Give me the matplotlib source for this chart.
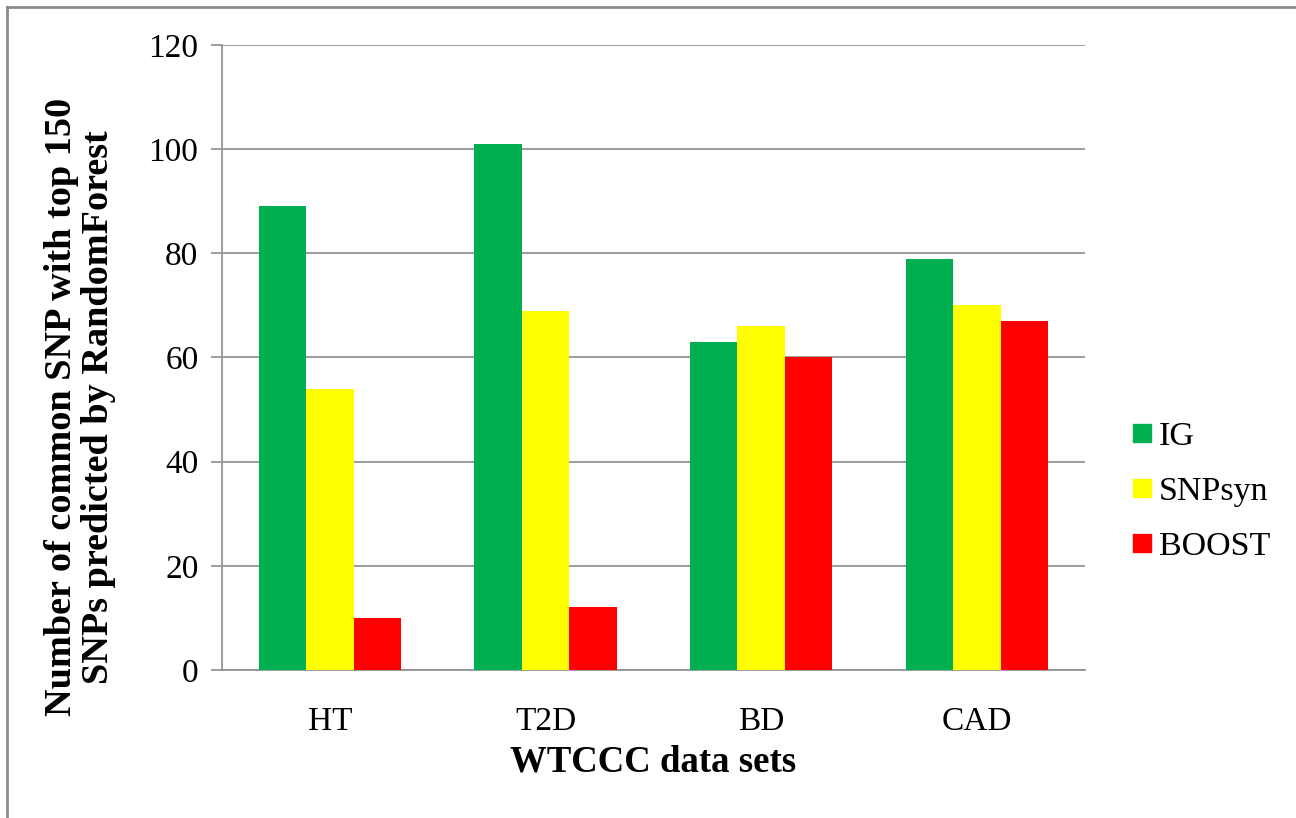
import matplotlib
matplotlib.use("Agg")
import matplotlib.pyplot as plt
import numpy as np
from matplotlib.lines import Line2D

categories = ["HT", "T2D", "BD", "CAD"]
series_names = ["IG", "SNPsyn", "BOOST"]
ig = [89, 101, 63, 79]
snpsyn = [54, 69, 66, 70]
boost = [10, 12, 60, 67]
colors = ["#00B050", "#FFFF00", "#FF0000"]

plt.rcParams['font.family'] = ['Liberation Serif', 'DejaVu Serif']

fig = plt.figure(figsize=(12.96, 8.18), dpi=100)
ax = fig.add_axes([0.1713, 0.181, 0.6657, 0.764])

x = np.arange(len(categories))
w = 0.22
data = [ig, snpsyn, boost]
for i, (vals, c, name) in enumerate(zip(data, colors, series_names)):
    ax.bar(x + (i - 1) * w, vals, width=w, color=c, label=name, zorder=3)

ax.set_xlim(-0.5, 3.5)
ax.set_ylim(0, 120)
ax.set_yticks(range(0, 121, 20))
ax.set_xticks(x)
ax.set_xticklabels(categories)
ax.yaxis.grid(True, color="#8c8c8c", linewidth=1.2, zorder=0)
ax.set_axisbelow(True)
for s in ["top", "right"]:
    ax.spines[s].set_visible(False)
for s in ["left", "bottom"]:
    ax.spines[s].set_color("#8c8c8c")
    ax.spines[s].set_linewidth(1.2)
ax.tick_params(axis="y", length=8, color="#8c8c8c", width=1.2, labelsize=24, pad=9)
ax.tick_params(axis="x", length=0, labelsize=24, pad=26)

fig.text(80 / 1296, 1 - 407 / 818,
         "Number of common SNP with top 150\nSNPs predicted by RandomForest",
         fontsize=27.5, fontweight="bold", rotation=90, ha="center", va="center",
         multialignment="center", linespacing=1.1)
ax.set_xlabel("WTCCC data sets", fontsize=26.5, fontweight="bold", labelpad=6)

handles = [Line2D([0], [0], marker="s", linestyle="none", markersize=13,
                  markerfacecolor=c, markeredgecolor=c) for c in colors]
fig.legend(handles, series_names, loc="center left", bbox_to_anchor=(0.8445, 0.399),
           frameon=False, fontsize=24.5, handletextpad=0.0, labelspacing=0.7,
           handlelength=1.0)

# figure border (left and top)
fig.add_artist(Line2D([0.0055, 0.0055], [0.0, 0.9915], transform=fig.transFigure,
                      color="#8c8c8c", linewidth=2))
fig.add_artist(Line2D([0.0055, 1.0], [0.9915, 0.9915], transform=fig.transFigure,
                      color="#8c8c8c", linewidth=2))

fig.savefig("out.png", dpi=100)
